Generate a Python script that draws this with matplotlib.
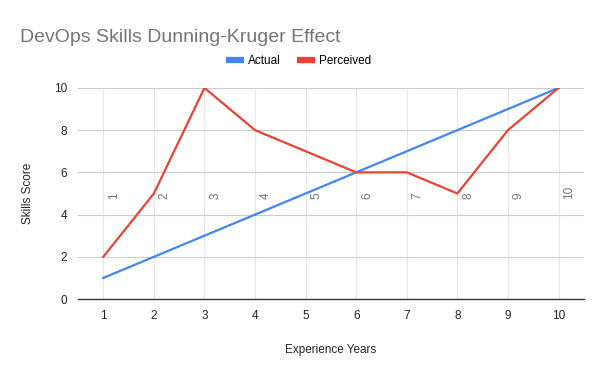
"""
DevOps skills Dunning-Kruger chart (Google Sheets look)
"""
import matplotlib
matplotlib.use("Agg")
import matplotlib.pyplot as plt
import matplotlib.transforms as mtransforms

years = [1, 2, 3, 4, 5, 6, 7, 8, 9, 10]
actual = [1, 2, 3, 4, 5, 6, 7, 8, 9, 10]
perceived = [2, 5, 10, 8, 7, 6, 6, 5, 8, 10]
inner_labels = ["1", "2", "3", "4", "5", "6", "7", "8", "9", "10"]
y_ticks = [0, 2, 4, 6, 8, 10]

plt.rcParams["font.family"] = ["Liberation Sans", "DejaVu Sans"]

fig = plt.figure(figsize=(6, 3.71), dpi=100)
ax = fig.add_axes([0.13, 0.194, 0.843, 0.569])

ax.plot(years, actual, color="#4285F4", lw=1.6, label="Actual", zorder=3)
ax.plot(years, perceived, color="#EA4335", lw=1.6, label="Perceived", zorder=3)

# the stray rotated category labels in the middle of the plot
off = mtransforms.offset_copy(ax.transData, fig=fig, x=5, y=0, units="dots")
for x, s in zip(years, inner_labels):
    ax.text(x, 4.75, s, rotation=90, ha="left", va="bottom", transform=off,
            fontsize=8.5, color="#757575")

ax.set_xlim(0.5, 10.5)
ax.set_ylim(0, 10)
ax.set_xticks(years)
ax.set_yticks(y_ticks)
ax.grid(axis="y", color="#cccccc", lw=0.8)
ax.grid(axis="x", color="#e6e6e6", lw=0.8)
ax.set_axisbelow(True)
for side in ["top", "right", "left"]:
    ax.spines[side].set_visible(False)
ax.spines["bottom"].set_color("#333333")
ax.spines["bottom"].set_linewidth(1.0)
ax.tick_params(length=0, labelsize=8.5, labelcolor="#222222", pad=8)

ax.set_xlabel("Experience Years", fontsize=8.5, color="#222222", labelpad=16)
ax.set_ylabel("Skills Score", fontsize=8.5, color="#222222", labelpad=14)

fig.text(0.033, 0.9, "DevOps Skills Dunning-Kruger Effect", fontsize=14,
         color="#757575", va="center", ha="left")

handles, labels = ax.get_legend_handles_labels()
leg = fig.legend(handles, labels, loc="center", bbox_to_anchor=(0.5, 0.836), ncol=2,
                 frameon=False, fontsize=8.5, handlelength=1.0, handletextpad=0.6,
                 columnspacing=1.6)
for h in leg.get_lines():
    h.set_linewidth(4.5)

fig.savefig("out.png", dpi=100)
